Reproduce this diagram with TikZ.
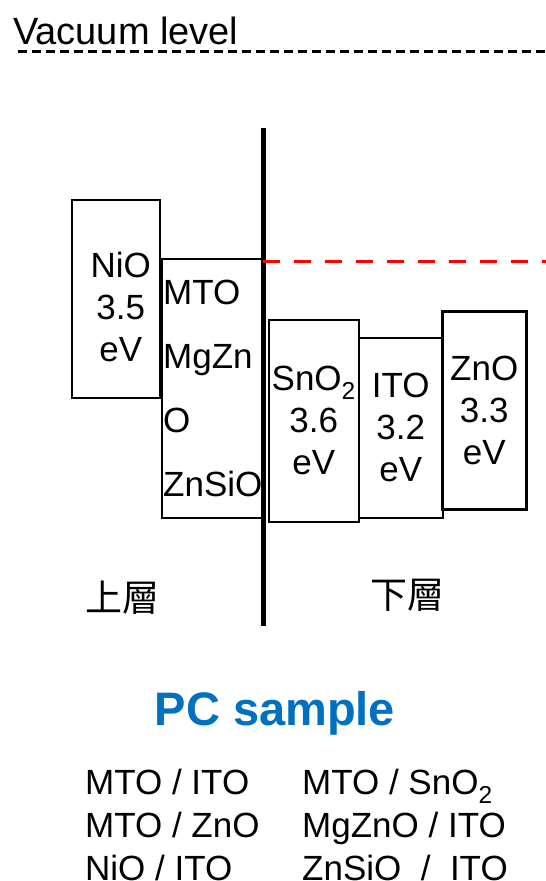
\documentclass[tikz,border=0pt]{standalone}
\usepackage{fontspec}
\setmainfont{Liberation Sans}
\newfontfamily\cjkfont{Noto Sans CJK TC}
\usepackage{xcolor}
\usepackage{tikz}
\usetikzlibrary{positioning}
\definecolor{pcblue}{HTML}{0070C0}
\definecolor{levelred}{HTML}{FF0000}

\begin{document}
\begin{tikzpicture}[x=1pt, y=-1pt,
    bandbox/.style={draw, line width=1.5pt, inner sep=0pt, anchor=north west, align=center, font=\fontsize{35}{42}\selectfont},
    layerlabel/.style={inner sep=0pt, font=\cjkfont\fontsize{37}{37}\selectfont},
    pairlist/.style={anchor=north west, inner sep=0pt, align=left, font=\fontsize{35}{43}\selectfont}]
\useasboundingbox (0,0) rectangle (546,881);

% vacuum level
\node[anchor=base west, inner sep=0pt, font=\fontsize{38}{38}\selectfont] (vac) at (13,44) {Vacuum level};
\coordinate (vacL) at (18,51);
\coordinate (vacR) at (546,51);
\draw[line width=3pt, dash pattern=on 9pt off 5pt] (vacL) -- (vacR);

% upper layer boxes
\node[bandbox, minimum width=88pt, minimum height=198pt] (nio) at (71,199) {};
\node[align=center, inner sep=0pt, font=\fontsize{35}{42}\selectfont] (niotext) at ([xshift=5pt, yshift=-8pt]nio.center) {NiO\\3.5\\eV};
\node[bandbox, minimum width=102pt, minimum height=259pt, align=left, font=\fontsize{35}{64}\selectfont] (mto) at (161,258) {MTO\\MgZn\\O\\ZnSiO};

% lower layer boxes
\node[bandbox, minimum width=90pt, minimum height=202pt] (sno) at (268,319) {SnO\textsubscript{2}\\3.6\\eV};
\node[bandbox, minimum width=84pt, minimum height=180pt] (ito) at (358,337) {ITO\\3.2\\eV};
\node[bandbox, line width=2.5pt, minimum width=84pt, minimum height=198pt] (zno) at (441,310) {ZnO\\3.3\\eV};

% interface and level
\coordinate (ifTop) at (263,128);
\coordinate (ifBot) at (263,626);
\draw[line width=5pt] (ifTop) -- (ifBot);
\coordinate (lvlL) at (263,261);
\coordinate (lvlR) at (546,261);
\draw[levelred, line width=3pt, dash pattern=on 17pt off 14pt] (lvlL) -- (lvlR);

\node[layerlabel] (upper) at (122,598) {上層};
\node[layerlabel] (lower) at (407,595) {下層};

% samples
\node[anchor=base, inner sep=0pt, text=pcblue, font=\fontsize{47}{47}\selectfont\bfseries] (pc) at (275,725) {PC sample};
\node[pairlist] (pairsL) at (85,769) {MTO / ITO\\MTO / ZnO\\NiO / ITO};
\node[pairlist] (pairsR) at (302,769) {MTO / SnO\textsubscript{2}\\MgZnO / ITO\\ZnSiO \ / \ ITO};
\end{tikzpicture}
\end{document}
